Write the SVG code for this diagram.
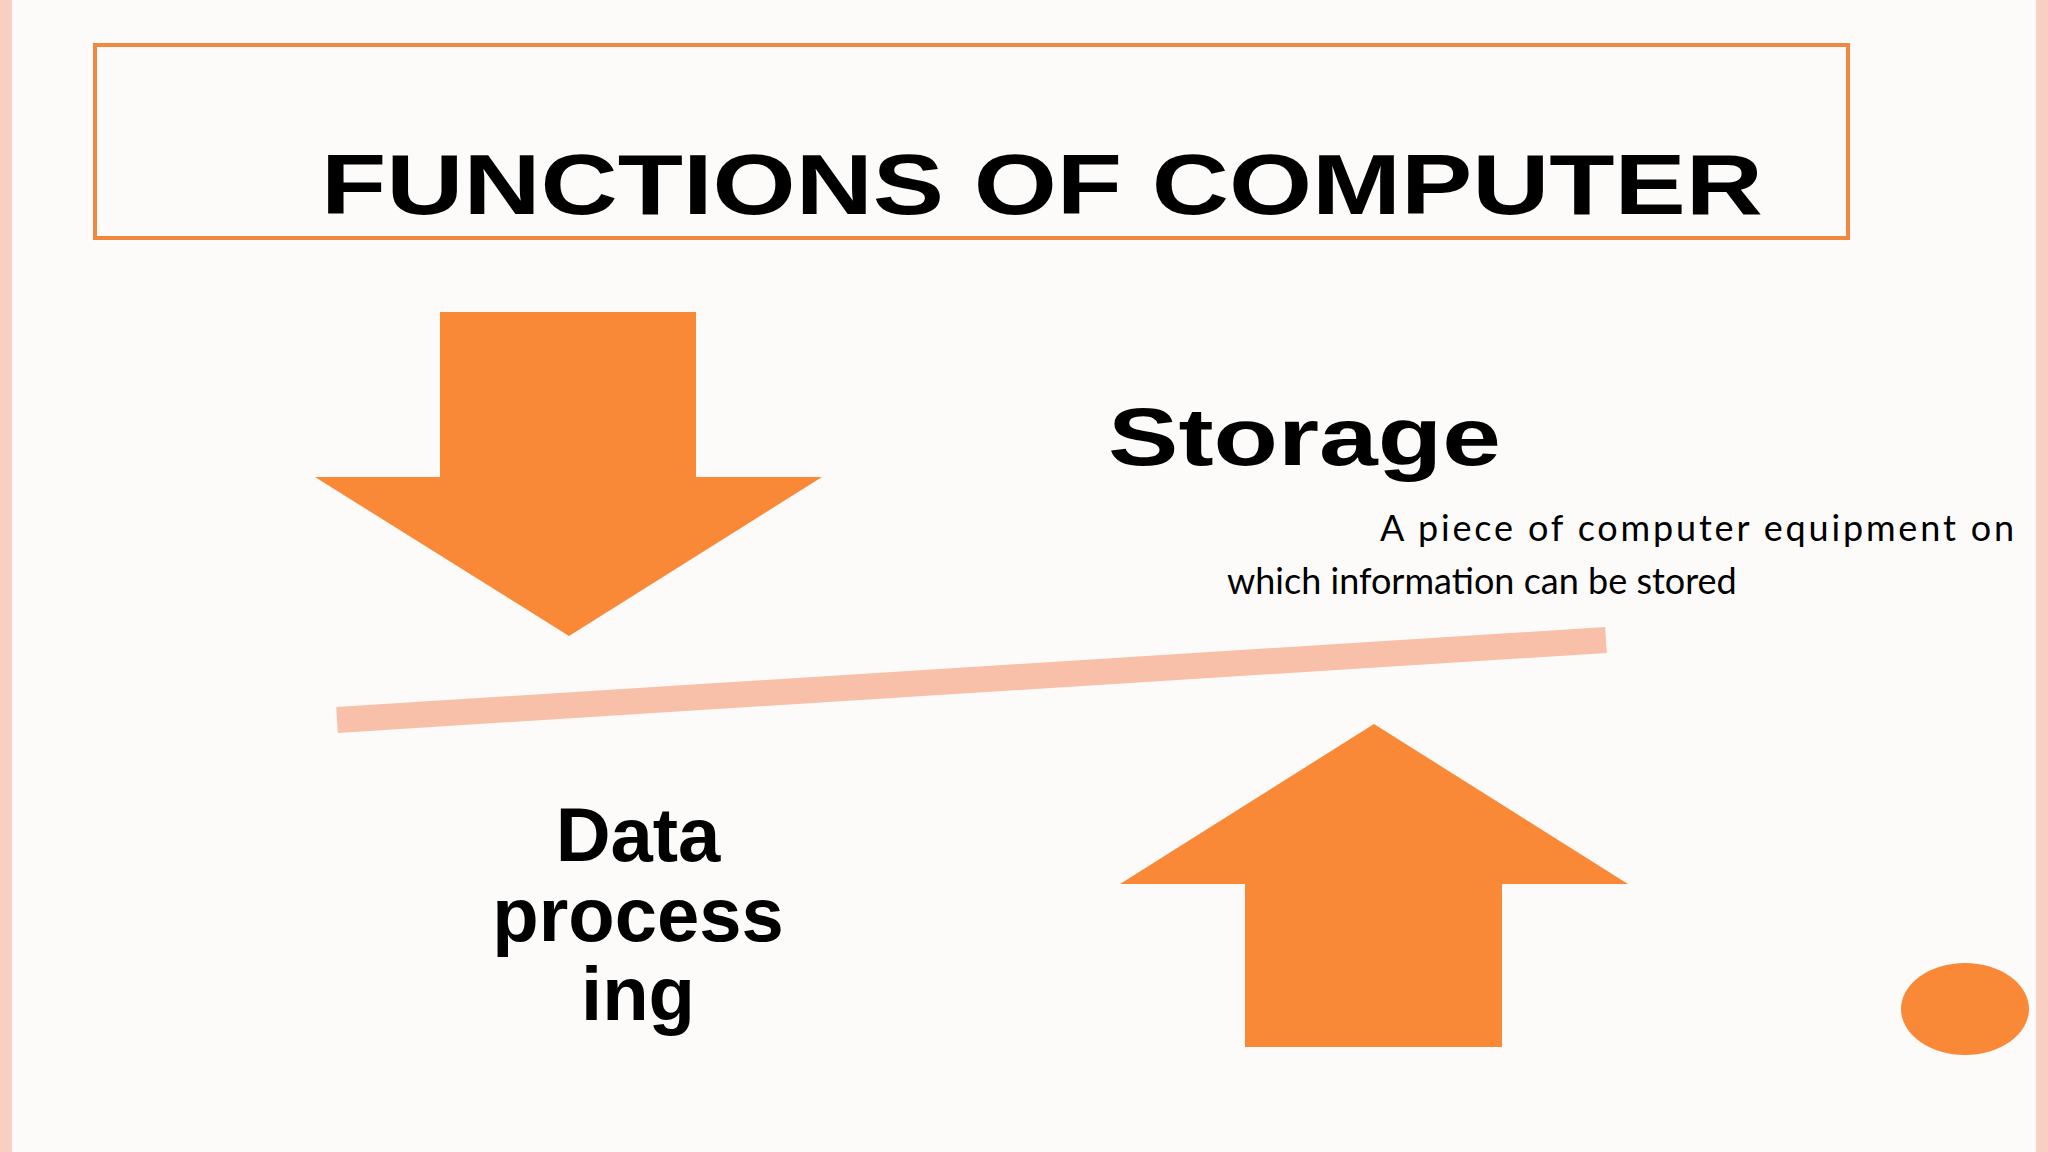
<svg xmlns="http://www.w3.org/2000/svg" width="2048" height="1152" viewBox="0 0 2048 1152">
<style>
.arrow{fill:#F98837}
.big{font-family:"Liberation Sans",Arial,sans-serif;font-weight:bold;fill:#000}
.small{font-family:Lato,"Open Sans",sans-serif;font-size:36px;fill:#000}
</style>
<rect width="2048" height="1152" fill="#FDFBFA"/>
<rect x="0" y="0" width="12" height="1152" fill="#F8CFC0"/>
<rect x="2036" y="0" width="12" height="1152" fill="#F8CFC0"/>
<g id="title">
<rect x="95" y="45" width="1753" height="193" fill="none" stroke="#F0883F" stroke-width="4"/>
<text class="big" x="321" y="214" font-size="86" textLength="1442" lengthAdjust="spacingAndGlyphs">FUNCTIONS OF COMPUTER</text>
</g>
<g id="down-arrow"><polygon class="arrow" points="440,312 696,312 696,477 822,477 569,636 315,477 440,477"/></g>
<g id="up-arrow"><polygon class="arrow" points="1374,724 1628,884 1502,884 1502,1047 1245,1047 1245,884 1120,884"/></g>
<g id="connectors"><line x1="337" y1="720" x2="1606" y2="640" stroke="#F8C0A8" stroke-width="26"/></g>
<g id="storage">
<text class="big" x="1108" y="465" font-size="82" textLength="393" lengthAdjust="spacingAndGlyphs">Storage</text>
<text class="small" x="1380" y="541" textLength="634" lengthAdjust="spacing">A piece of computer equipment on</text>
<text class="small" x="1227" y="594">which information can be stored</text>
</g>
<g id="data-processing" text-anchor="middle">
<text class="big" x="638" y="861" font-size="76">Data</text>
<text class="big" x="638" y="941" font-size="76">process</text>
<text class="big" x="638" y="1020" font-size="76">ing</text>
</g>
<g id="dot"><ellipse cx="1965" cy="1009" rx="64" ry="46" fill="#F98837"/></g>
</svg>
